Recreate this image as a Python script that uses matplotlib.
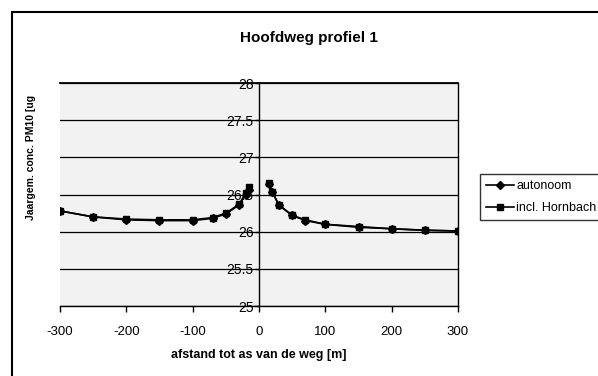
import matplotlib
matplotlib.use('Agg')
from matplotlib import pyplot as plt
from matplotlib.patches import Rectangle

# afstand tot de as van de weg (m)
afstand_links = [-300, -250, -200, -150, -100, -70, -50, -30, -20, -15]
afstand_rechts = [15, 20, 30, 50, 70, 100, 150, 200, 250, 300]

# jaargemiddelde concentratie PM10
autonoom_links = [26.28, 26.20, 26.16, 26.15, 26.15, 26.18, 26.24, 26.36, 26.50, 26.56]
autonoom_rechts = [26.64, 26.53, 26.36, 26.22, 26.15, 26.10, 26.06, 26.04, 26.02, 26.01]
hornbach_links = [26.28, 26.20, 26.17, 26.16, 26.16, 26.19, 26.25, 26.37, 26.52, 26.60]
hornbach_rechts = [26.66, 26.54, 26.36, 26.22, 26.16, 26.10, 26.07, 26.04, 26.02, 26.01]

y_ticks = [25, 25.5, 26, 26.5, 27, 27.5, 28]
x_ticks = [-300, -200, -100, 0, 100, 200, 300]

plt.rcParams['font.family'] = ['Liberation Sans', 'DejaVu Sans']

fig = plt.figure(figsize=(5.98, 3.76), dpi=100)
ax = fig.add_axes([0.1003, 0.186, 0.6656, 0.593])
ax.set_facecolor('#f2f2f2')

# lijnen, los voor links en rechts van de weg
ax.plot(afstand_links, autonoom_links, color='black', lw=1.2, marker='D', ms=4, label='autonoom')
ax.plot(afstand_rechts, autonoom_rechts, color='black', lw=1.2, marker='D', ms=4)
ax.plot(afstand_links, hornbach_links, color='black', lw=1.2, marker='s', ms=5, label='incl. Hornbach')
ax.plot(afstand_rechts, hornbach_rechts, color='black', lw=1.2, marker='s', ms=5)

ax.set_xlim(-300, 300)
ax.set_ylim(25, 28)
ax.set_xticks(x_ticks)
ax.set_xticklabels([str(t) for t in x_ticks], fontsize=9.5)
ax.set_yticks(y_ticks)
ax.set_yticklabels(['%g' % t for t in y_ticks], fontsize=9.5)
ax.grid(axis='y', color='black', lw=0.9)
ax.set_axisbelow(True)

# y-as door x = 0
ax.spines['left'].set_position(('data', 0))
for s in ['left', 'right', 'top', 'bottom']:
    ax.spines[s].set_color('black')
    ax.spines[s].set_linewidth(1.0)
ax.spines['top'].set_linewidth(1.3)
ax.tick_params(axis='x', direction='out', length=4, pad=10, width=1)
ax.tick_params(axis='y', direction='out', length=3, pad=1, width=1)

fig.text(309 / 598, 1 - 38 / 376, 'Hoofdweg profiel 1', fontsize=11, fontweight='bold',
         ha='center', va='center')
ax.set_xlabel('afstand tot as van de weg [m]', fontsize=9, fontweight='bold', labelpad=8)
fig.text(0.052, 1 - 157 / 376, 'Jaargem. conc. PM10 [ug', rotation=90, fontsize=7.5,
         fontweight='bold', ha='center', va='center')

leg = ax.legend(loc='center left', bbox_to_anchor=(1.055, 0.489), fontsize=9,
                frameon=True, fancybox=False, edgecolor='black', handlelength=2.2,
                handletextpad=0.2, borderpad=0.5, labelspacing=0.8, borderaxespad=0)
leg.get_frame().set_linewidth(1.0)

# kader rond de grafiek
fig.patches.append(Rectangle((12 / 598, -0.05), 1.0, 1 - 12 / 376 + 0.05,
                             transform=fig.transFigure, fill=False,
                             edgecolor='black', lw=1.5))

plt.savefig('out.png', dpi=100)
